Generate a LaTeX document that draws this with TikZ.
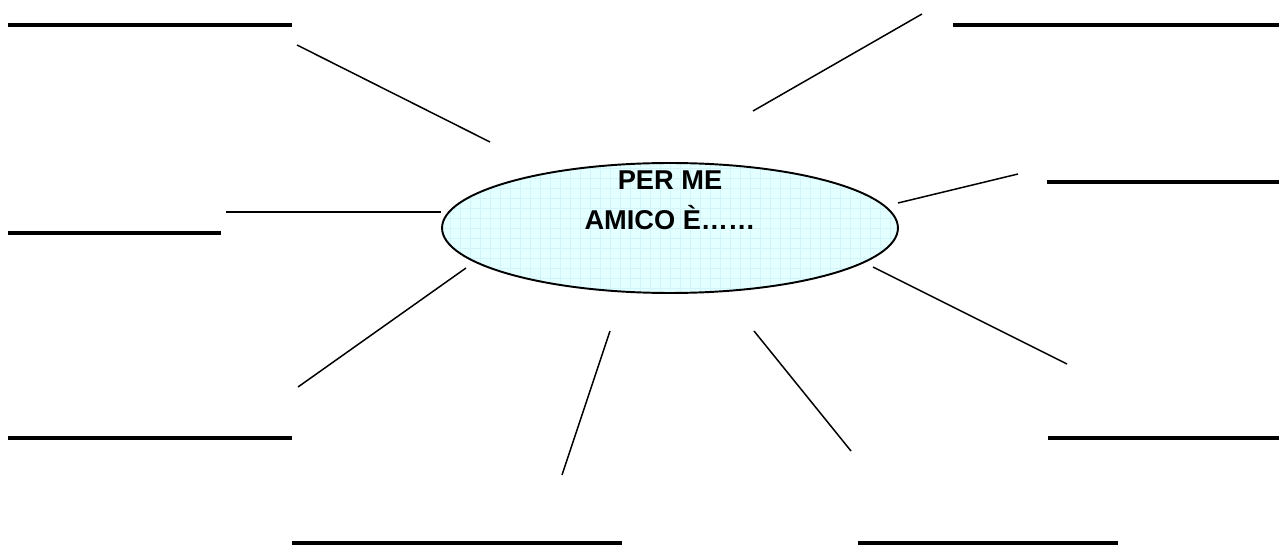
\documentclass[tikz,border=0pt]{standalone}
\usepackage{fontspec}
\setmainfont{Liberation Sans}
\usepackage{tikz}
\usetikzlibrary{shapes.geometric}
\definecolor{hubfill}{RGB}{228,255,255}
\definecolor{hubgrid}{RGB}{208,244,250}
\newcommand{\blankline}[4]{
    \node[anchor=west, inner sep=0pt] (#1) at (#2,#3) {\rule{\dimexpr 0.02cm*#4\relax}{0.07cm}};
}
\begin{document}
\begin{tikzpicture}[x=0.02cm, y=-0.02cm, spoke/.style={line width=0.85pt}]
        \useasboundingbox (0,0) rectangle (1279,547);
        \node[ellipse, draw, line width=1.1pt, fill=hubfill, minimum width=9.12cm, minimum height=2.6cm, inner sep=0pt,
            path picture={\draw[hubgrid, line width=0.2pt, step=0.2cm] (path picture bounding box.south west) grid (path picture bounding box.north east);}] (hub) at (670,228) {};
        \node[font=\bfseries\fontsize{15.5}{22.8}\selectfont, align=center] (title) at (670,200) {PER ME\\AMICO È……};
        \blankline{b1}{8}{25}{284}
        \blankline{b2}{8}{233}{213}
        \blankline{b3}{953}{25}{326}
        \blankline{b4}{1047}{182}{232}
        \blankline{b5}{8}{438}{284}
        \blankline{b6}{1048}{438}{231}
        \blankline{b7}{292}{543}{330}
        \blankline{b8}{858}{543}{260}
        \coordinate (s1) at (490,142);
        \coordinate (e1) at (297,45);
        \coordinate (s2) at (441,212);
        \coordinate (e2) at (226,212);
        \coordinate (s3) at (466,268);
        \coordinate (e3) at (298,387);
        \coordinate (s4) at (610,331);
        \coordinate (e4) at (562,475);
        \coordinate (s5) at (754,331);
        \coordinate (e5) at (851,451);
        \coordinate (s6) at (873,267);
        \coordinate (e6) at (1067,364);
        \coordinate (s7) at (898,203);
        \coordinate (e7) at (1018,174);
        \coordinate (s8) at (753,111);
        \coordinate (e8) at (922,14);
        \foreach \i in {1,...,8}
            \draw[spoke] (s\i) -- (e\i);
    \end{tikzpicture}
\end{document}
